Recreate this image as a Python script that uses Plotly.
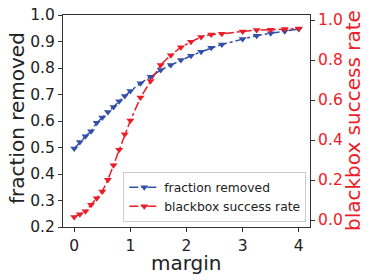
import plotly.graph_objects as go

margin = [0.0, 0.1, 0.2, 0.3, 0.4, 0.5, 0.6, 0.7, 0.8, 0.9, 1.0,
          1.18, 1.36, 1.54, 1.72, 1.9, 2.08, 2.26, 2.44, 2.63,
          3.0, 3.25, 3.5, 3.75, 4.0]
fraction_removed = [0.496, 0.521, 0.542, 0.561, 0.593, 0.613, 0.634, 0.653, 0.675, 0.694, 0.713,
                    0.742, 0.767, 0.792, 0.811, 0.830, 0.846, 0.861, 0.876, 0.889,
                    0.909, 0.922, 0.931, 0.939, 0.947]
blackbox_success = [0.015, 0.029, 0.044, 0.076, 0.109, 0.143, 0.201, 0.274, 0.351, 0.429, 0.497,
                    0.612, 0.695, 0.775, 0.824, 0.864, 0.891, 0.915, 0.927, 0.931,
                    0.943, 0.950, 0.951, 0.955, 0.957]
left_ticks = [0.2, 0.3, 0.4, 0.5, 0.6, 0.7, 0.8, 0.9, 1.0]
right_ticks = [0.0, 0.2, 0.4, 0.6, 0.8, 1.0]
x_ticks = [0, 1, 2, 3, 4]

BLUE = "#3350a9"
RED = "#ec1c28"
DARK = "#222222"
FONT = "DejaVu Sans"

fig = go.Figure()
fig.add_trace(go.Scatter(
    x=margin, y=fraction_removed, name="fraction removed", mode="lines+markers",
    line=dict(color=BLUE, width=1.5, dash="dashdot"),
    marker=dict(symbol="triangle-down", size=7, color=BLUE),
    yaxis="y"))
fig.add_trace(go.Scatter(
    x=margin, y=blackbox_success, name="blackbox success rate", mode="lines+markers",
    line=dict(color=RED, width=1.5, dash="dashdot"),
    marker=dict(symbol="triangle-down", size=7, color=RED),
    yaxis="y2"))

fig.update_layout(
    template="none",
    width=374, height=280,
    margin=dict(l=63, r=64, t=15, b=53, autoexpand=False),
    paper_bgcolor="white", plot_bgcolor="white",
    font=dict(family=FONT, color=DARK),
    showlegend=True,
    legend=dict(x=0.985, y=0.025, xanchor="right", yanchor="bottom",
                bgcolor="rgba(255,255,255,0.85)", bordercolor="#cccccc", borderwidth=1,
                font=dict(size=12.3, color=DARK), tracegroupgap=0,
                itemwidth=30),
    xaxis=dict(range=[-0.2, 4.2], tickvals=x_ticks, ticktext=[str(v) for v in x_ticks],
               automargin=False,
               showgrid=False, zeroline=False, showline=True, linecolor="#333333",
               linewidth=1, mirror=True, ticks="outside", ticklen=4, tickcolor="#333333",
               tickfont=dict(size=15.5, color=DARK)),
    yaxis=dict(range=[0.2, 1.0], tickvals=left_ticks, ticktext=[f"{v:.1f}" for v in left_ticks],
               automargin=False, ticklabeloverflow="allow",
               showgrid=False, zeroline=False, showline=True, linecolor="#333333",
               linewidth=1, ticks="outside", ticklen=4, tickcolor="#333333",
               tickfont=dict(size=15.5, color=DARK)),
    yaxis2=dict(range=[-0.035, 1.025], tickvals=right_ticks, ticktext=[f"{v:.1f}" for v in right_ticks],
                automargin=False, ticklabeloverflow="allow",
                overlaying="y", side="right", showgrid=False, zeroline=False,
                showline=True, linecolor="#333333", linewidth=1,
                ticks="outside", ticklen=4, tickcolor="#333333",
                tickfont=dict(size=15.5, color=RED)),
    annotations=[
        dict(text="margin", xref="paper", yref="paper", x=0.5, y=0,
             xanchor="center", yanchor="middle", yshift=-36, showarrow=False,
             borderpad=0, font=dict(size=20, color=DARK)),
        dict(text="fraction removed", xref="paper", yref="paper", x=0, y=0.5,
             xanchor="center", yanchor="middle", xshift=-46, yshift=3, textangle=-90,
             showarrow=False, font=dict(size=20, color=DARK)),
        dict(text="blackbox success rate", xref="paper", yref="paper", x=1, y=0.5,
             xanchor="center", yanchor="middle", xshift=43, yshift=0, textangle=-90,
             showarrow=False, font=dict(size=20, color=RED)),
    ],
)

fig.write_html("out.html", config={"displayModeBar": False},
               post_script="document.body.style.margin='0';")
